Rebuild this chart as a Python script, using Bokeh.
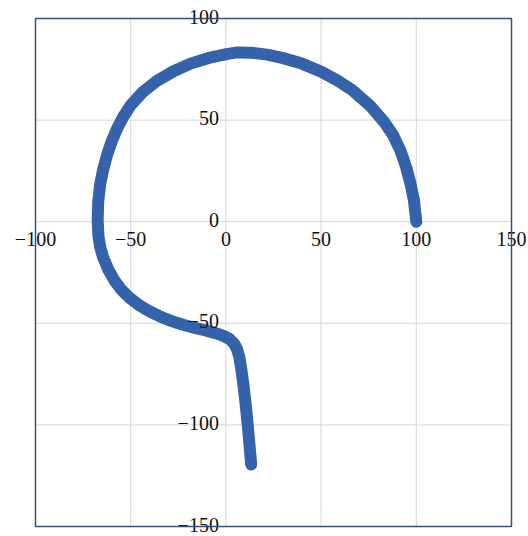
from bokeh.plotting import figure
from bokeh.models import Range1d, BoxAnnotation, ColumnDataSource
from bokeh.core.properties import value
from bokeh.embed import file_html
from bokeh.resources import INLINE

# curve data
curve_x = [100, 98.8, 97, 94.6, 91.7, 87.8, 83, 75.7, 66.3, 58.6, 50.7, 39.9, 30.1, 21.6, 12.9, 6,
           0.3, -9, -18.6, -27.5, -36.1, -44, -50, -54, -57.3, -60, -62.3, -64.4, -66, -67.05,
           -67.35, -66.95, -66, -64.5, -61.8, -58.5, -54.9, -50.8, -46, -40.8, -35.2, -29.2, -23,
           -16.2, -10.1, -4.9, -1, 2, 4.3, 5.9, 7, 8, 9.4, 10.5, 11.5, 12.4, 13.3]
curve_y = [0, 10.3, 18.6, 27, 34.9, 42.6, 49.2, 57.1, 64.8, 69.5, 73.5, 77.8, 80.5, 82.2, 83.2, 83.3,
           82.5, 80.6, 77.8, 74, 69.4, 63.5, 57.3, 51.5, 45.5, 39.5, 33.2, 25.9, 18.6, 10,
           1, -7, -12.5, -17.5, -23.5, -29, -33.5, -37.3, -40.8, -43.8, -46.4, -48.7, -50.6,
           -52.3, -53.6, -55, -56.3, -57.8, -60, -62.8, -66.5, -72, -81.6, -91, -100.4, -110, -119.5]

# axis extents and ticks
x_lim = [-100, 150]
y_lim = [-150, 100]
x_ticks = [-100, -50, 0, 50, 100, 150]
x_tick_labels = ["\u2212100", "\u221250", "0", "50", "100", "150"]
y_ticks = [-150, -100, -50, 0, 50, 100]
y_tick_labels = ["\u2212150", "\u2212100", "\u221250", "0", "50", "100"]

W, H = 528, 536
left_px, right_px, top_px, bottom_px = 35, 17, 18, 10
sx = (W - left_px - right_px) / (x_lim[1] - x_lim[0])
sy = (H - top_px - bottom_px) / (y_lim[1] - y_lim[0])

p = figure(width=W, height=H, output_backend="svg", toolbar_location=None,
           x_range=Range1d(x_lim[0] - left_px / sx, x_lim[1] + right_px / sx),
           y_range=Range1d(y_lim[0] - bottom_px / sy, y_lim[1] + top_px / sy),
           x_axis_location=None, y_axis_location=None, min_border=0)
p.grid.visible = False
p.outline_line_color = None
p.background_fill_color = "#ffffff"
p.border_fill_color = "#ffffff"

# grid lines
p.segment(x0=x_ticks, y0=[y_lim[0]] * len(x_ticks), x1=x_ticks, y1=[y_lim[1]] * len(x_ticks),
          line_color="#d6d6d6", line_width=1)
p.segment(x0=[x_lim[0]] * len(y_ticks), y0=y_ticks, x1=[x_lim[1]] * len(y_ticks), y1=y_ticks,
          line_color="#d6d6d6", line_width=1)

# frame
p.add_layout(BoxAnnotation(left=x_lim[0], right=x_lim[1], bottom=y_lim[0], top=y_lim[1],
                           fill_color=None, fill_alpha=0, line_color="#34507f",
                           line_alpha=1.0, line_width=1.5))

p.line(curve_x, curve_y, line_width=12, line_color="#3462ab",
       line_cap="round", line_join="round")

xs = ColumnDataSource(dict(x=x_ticks, y=[0] * len(x_ticks), t=x_tick_labels))
p.text(x="x", y="y", text="t", source=xs, text_font=value("Liberation Serif"),
       text_font_size="20px", text_color="#111111", text_align="center",
       text_baseline="middle", y_offset=17)

ys = ColumnDataSource(dict(x=[0] * len(y_ticks), y=y_ticks, t=y_tick_labels))
p.text(x="x", y="y", text="t", source=ys, text_font=value("Liberation Serif"),
       text_font_size="20px", text_color="#111111", text_align="right",
       text_baseline="middle", x_offset=-7, y_offset=-2)

open("out.html", "w").write(file_html(p, INLINE))
